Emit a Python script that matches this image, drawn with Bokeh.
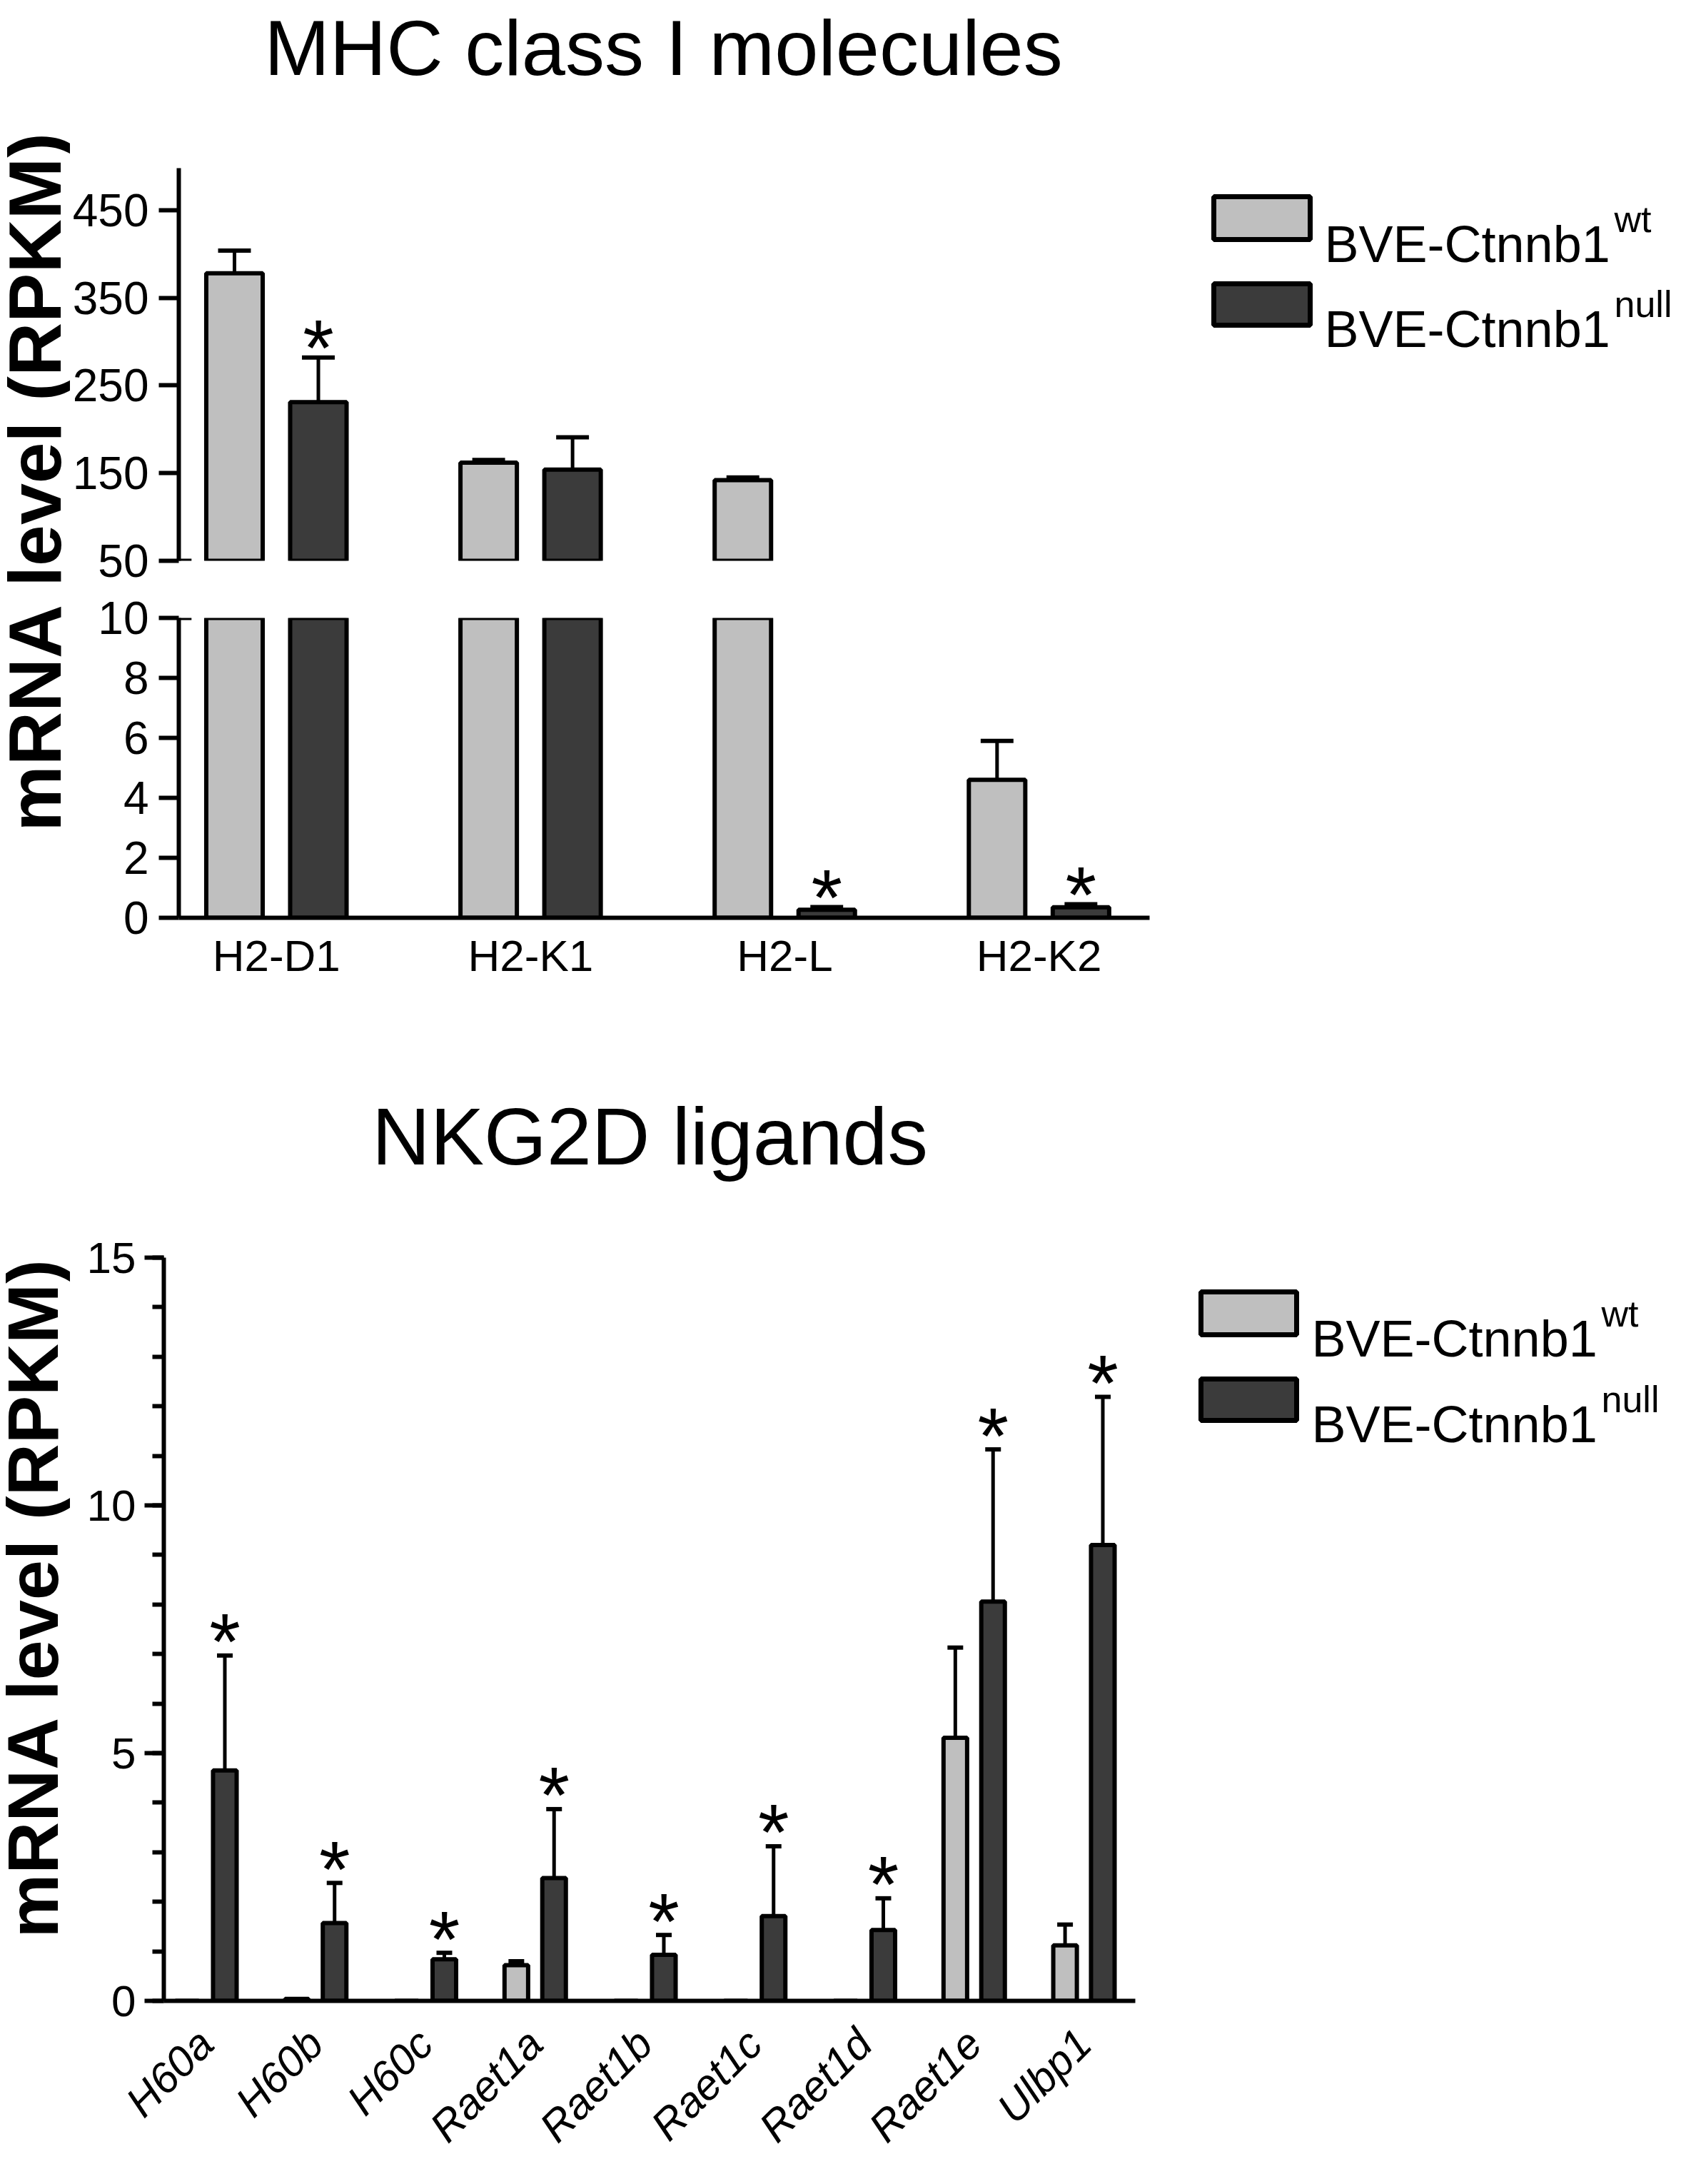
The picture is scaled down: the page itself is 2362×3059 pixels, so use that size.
from math import pi
from bokeh.plotting import figure
from bokeh.models import Range1d, FixedTicker
from bokeh.layouts import column, row
from bokeh.core.properties import value
from bokeh.embed import file_html
from bokeh.resources import INLINE

# ---------------- data ----------------
mhc_genes = ["H2-D1", "H2-K1", "H2-L", "H2-K2"]
mhc_wt = [378, 162, 142, 4.6]
mhc_wt_err = [26, 3, 3, 1.3]
mhc_null = [231, 154, 0.27, 0.35]
mhc_null_err = [51, 37, 0.09, 0.1]
mhc_null_sig = [True, False, True, True]

nk_genes = ["H60a", "H60b", "H60c", "Raet1a", "Raet1b", "Raet1c", "Raet1d", "Raet1e", "Ulbp1"]
nk_wt = [0, 0.04, 0, 0.72, 0, 0, 0, 5.31, 1.12]
nk_wt_err = [0, 0, 0, 0.08, 0, 0, 0, 1.82, 0.42]
nk_null = [4.65, 1.57, 0.84, 2.48, 0.93, 1.71, 1.43, 8.06, 9.2]
nk_null_err = [2.32, 0.81, 0.13, 1.39, 0.40, 1.41, 0.64, 3.07, 2.99]
nk_null_sig = [True] * 9

legend_labels = ["BVE-Ctnnb1", "BVE-Ctnnb1"]
legend_sups = ["wt", "null"]

WT_COLOR = "#bfbfbf"
NULL_COLOR = "#3b3b3b"
SANS = "Liberation Sans"
SHIFT = 0.32  # baseline correction (fraction of font size)


def deco(w, h):
    p = figure(width=w, height=h, x_range=Range1d(0, w), y_range=Range1d(0, h), title=None,
               x_axis_location=None, y_axis_location=None, toolbar_location=None,
               output_backend="svg", min_border=0, sizing_mode="fixed")
    p.outline_line_color = None
    p.xgrid.visible = False
    p.ygrid.visible = False
    return p


def style_y(ax, size):
    ax.axis_line_width = 6
    ax.major_tick_line_width = 6
    ax.major_tick_out = 28
    ax.major_tick_in = 0
    ax.major_label_text_font = SANS
    ax.major_label_text_font_size = size
    ax.major_label_text_color = "black"
    ax.major_label_standoff = 14


def bar_fig(w, h, xr, yr, mb):
    p = figure(width=w, height=h, x_range=xr, y_range=yr, title=None, toolbar_location=None,
               output_backend="svg", min_border_left=mb[0], min_border_right=mb[1],
               min_border_top=mb[2], min_border_bottom=mb[3], sizing_mode="fixed")
    p.outline_line_color = None
    p.xgrid.visible = False
    p.ygrid.visible = False
    return p


def draw_bars(p, vals, errs, offset, bw, color, capw, lo, sig=None, star_pred=None,
              star_off=0, star_size="112px"):
    n = len(vals)
    xs = [i + offset for i in range(n)]
    bx = [x for x, v in zip(xs, vals) if v > lo]
    bt = [v for v in vals if v > lo]
    p.vbar(x=bx, top=bt, bottom=0, width=bw, fill_color=color, line_color="black", line_width=6)
    ex = [x for x, v, e in zip(xs, vals, errs) if e > 0 and v + e > lo]
    ev = [v for v, e in zip(vals, errs) if e > 0 and v + e > lo]
    et = [v + e for v, e in zip(vals, errs) if e > 0 and v + e > lo]
    p.segment(x0=ex, y0=ev, x1=ex, y1=et, line_color="black", line_width=5)
    p.segment(x0=[x - capw / 2 for x in ex], y0=et, x1=[x + capw / 2 for x in ex], y1=et,
              line_color="black", line_width=6)
    if sig is not None:
        sx, sy = [], []
        for x, v, e, s in zip(xs, vals, errs, sig):
            if s and star_pred(v + e):
                sx.append(x)
                sy.append(v + e)
        p.text(x=sx, y=sy, text=["*"] * len(sx), text_align="center", text_baseline="alphabetic",
               y_offset=star_off, text_font=value(SANS), text_font_size=star_size, text_color="black")


# ---------------- top chart ----------------
TW = 1574
top_xr = Range1d(-0.384, 3.435)
BW_T, OFF_T = 0.222, 0.165

title1 = deco(2346, 142)
title1.text(x=[929], y=[41 + SHIFT * 110], text=["MHC class I molecules"], text_align="center",
            text_baseline="alphabetic", text_font=value(SANS), text_font_size="110px", text_color="black")

U = bar_fig(TW, 683, top_xr, Range1d(50, 498), (150, 62, 93, 40))
U.xaxis.visible = False
style_y(U.yaxis[0], "64px")
U.yaxis.ticker = FixedTicker(ticks=[50, 150, 250, 350, 450], minor_ticks=[])
draw_bars(U, mhc_wt, mhc_wt_err, -OFF_T, BW_T, WT_COLOR, 0.129, 50)
draw_bars(U, mhc_null, mhc_null_err, OFF_T, BW_T, NULL_COLOR, 0.129, 50, mhc_null_sig,
          lambda y: y > 50, -13)
U.segment(x0=[top_xr.start], y0=[50], x1=[top_xr.start + 0.05], y1=[50], line_color="black", line_width=6)

L = bar_fig(TW, 647, top_xr, Range1d(0, 10), (150, 62, 40, 187))
style_y(L.yaxis[0], "64px")
L.yaxis.ticker = FixedTicker(ticks=[0, 2, 4, 6, 8, 10], minor_ticks=[])
xa = L.xaxis[0]
xa.ticker = FixedTicker(ticks=list(range(len(mhc_genes))), minor_ticks=[])
xa.major_label_overrides = {i: g for i, g in enumerate(mhc_genes)}
xa.axis_line_width = 6
xa.major_tick_out = 0
xa.major_tick_in = 0
xa.major_tick_line_color = None
xa.major_label_text_font = SANS
xa.major_label_text_font_size = "62px"
xa.major_label_text_color = "black"
xa.major_label_standoff = 18
draw_bars(L, mhc_wt, mhc_wt_err, -OFF_T, BW_T, WT_COLOR, 0.129, -1)
draw_bars(L, mhc_null, mhc_null_err, OFF_T, BW_T, NULL_COLOR, 0.129, -1, mhc_null_sig,
          lambda y: y < 10, -13)
L.segment(x0=[top_xr.start], y0=[10], x1=[top_xr.start + 0.05], y1=[10], line_color="black", line_width=6)

ylab1 = deco(98, 1330)
ylab1.text(x=[82 - SHIFT * 104], y=[799], text=["mRNA level (RPKM)"], angle=pi / 2, text_align="center",
           text_baseline="alphabetic", text_font=value(SANS), text_font_style="bold",
           text_font_size="104px", text_color="black")

MAIN_FS, SUP_FS = 72, 52


def legend_fig(h, bx0, bx1, boxes, tx, bases, supoff, suprise):
    p = deco(674, h)
    for (t0, t1), col in zip(boxes, [WT_COLOR, NULL_COLOR]):
        p.quad(left=[bx0], right=[bx1], top=[h - t0], bottom=[h - t1], fill_color=col,
               line_color="black", line_width=7)
    p.text(x=[tx, tx], y=[h - b + SHIFT * MAIN_FS for b in bases], text=legend_labels, text_align="left",
           text_baseline="alphabetic", text_font=value(SANS), text_font_size=f"{MAIN_FS}px",
           text_color="black")
    p.text(x=[tx + supoff] * 2, y=[h - b + suprise + SHIFT * SUP_FS for b in bases], text=legend_sups,
           text_align="left", text_baseline="alphabetic", text_font=value(SANS),
           text_font_size=f"{SUP_FS}px", text_color="black")
    return p


leg1 = legend_fig(1330, 28, 163, [(133, 193), (255, 313)], 183, [223, 342], 406, 42)

top_block = row(ylab1, column(U, L), leg1)

# ---------------- bottom chart ----------------
title2 = deco(2346, 210)
title2.text(x=[910], y=[54 + SHIFT * 113], text=["NKG2D ligands"], text_align="center",
            text_baseline="alphabetic", text_font=value(SANS), text_font_size="113px", text_color="black")

bot_xr = Range1d(-0.384, 8.468)
BW_B, OFF_B = 0.215, 0.172
BH = 1361
B = bar_fig(TW, BH, bot_xr, Range1d(0, 15), (131, 82, 79, 241))
by = B.yaxis[0]
style_y(by, "62px")
by.major_tick_out = 27
by.minor_tick_out = 16
by.minor_tick_in = 0
by.minor_tick_line_width = 6
by.major_label_standoff = 12
by.ticker = FixedTicker(ticks=[0, 5, 10, 15], minor_ticks=list(range(16)))
bx = B.xaxis[0]
bx.ticker = FixedTicker(ticks=list(range(len(nk_genes))), minor_ticks=[])
bx.major_label_overrides = {i: g for i, g in enumerate(nk_genes)}
bx.axis_line_width = 6
bx.major_tick_out = 0
bx.major_tick_in = 0
bx.major_tick_line_color = None
bx.major_label_text_font = SANS
bx.major_label_text_font_style = "italic"
bx.major_label_text_font_size = "60px"
bx.major_label_text_color = "black"
bx.major_label_orientation = pi / 4
bx.major_label_standoff = 50
draw_bars(B, nk_wt, nk_wt_err, -OFF_B, BW_B, WT_COLOR, 0.143, -1)
draw_bars(B, nk_null, nk_null_err, OFF_B, BW_B, NULL_COLOR, 0.143, -1, nk_null_sig,
          lambda y: True, -19)

ylab2 = deco(98, BH)
ylab2.text(x=[78 - SHIFT * 101], y=[806], text=["mRNA level (RPKM)"], angle=pi / 2, text_align="center",
           text_baseline="alphabetic", text_font=value(SANS), text_font_style="bold",
           text_font_size="101px", text_color="black")

leg2 = legend_fig(BH, 10, 144, [(127, 187), (249, 307)], 165, [216, 336], 406, 42)

bottom_block = row(ylab2, column(B), leg2)

page = column(title1, top_block, title2, bottom_block)
open("out.html", "w").write(file_html(page, INLINE))
